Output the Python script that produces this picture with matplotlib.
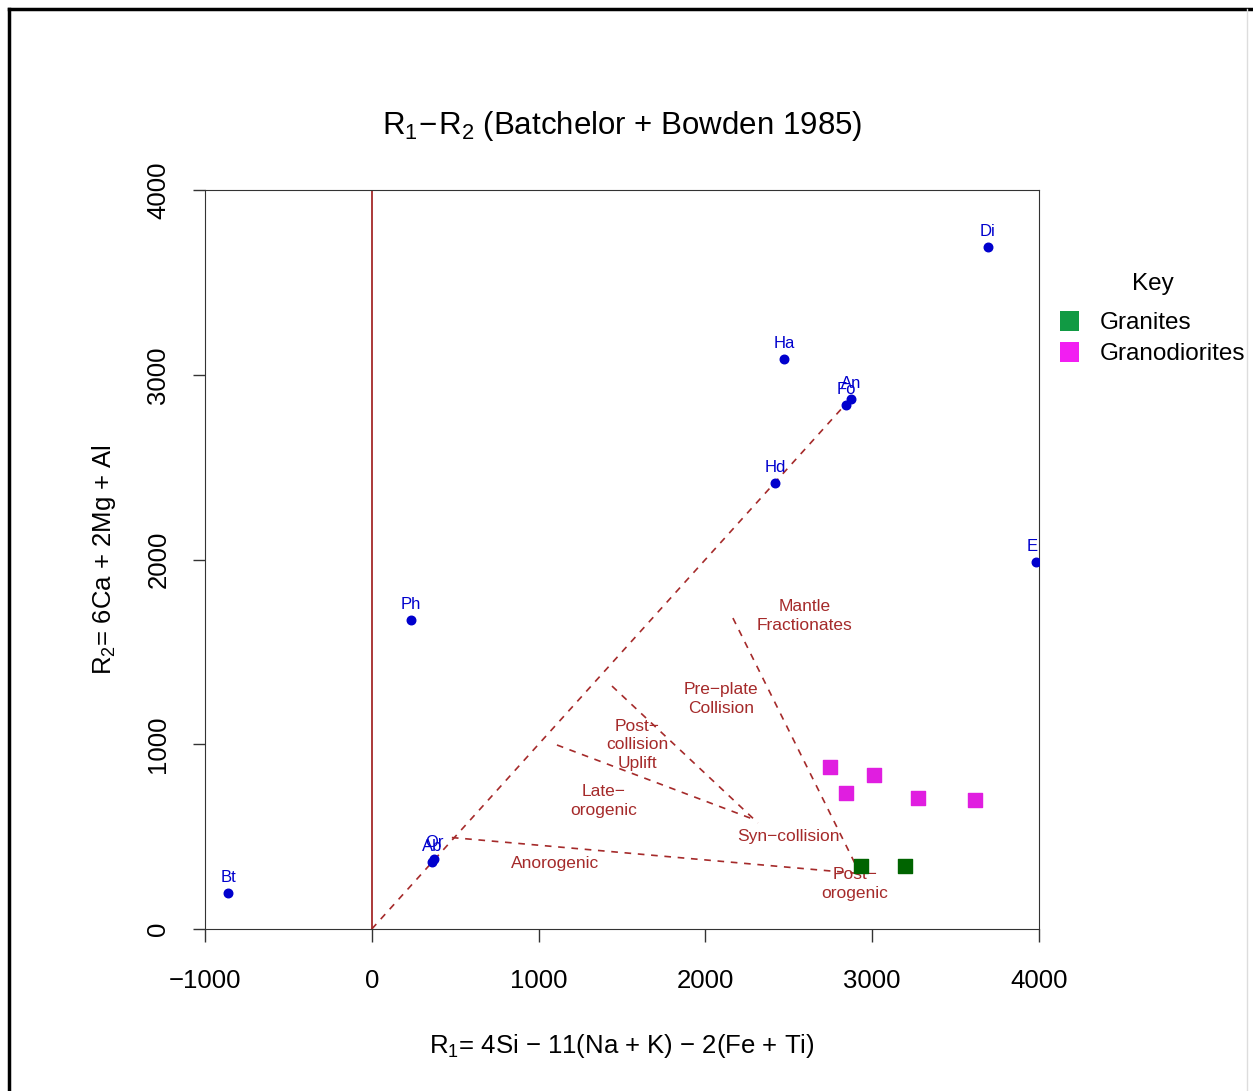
import matplotlib.pyplot as plt
from matplotlib.lines import Line2D
from matplotlib.patches import Patch

plt.rcParams['font.family'] = ['Liberation Sans', 'DejaVu Sans']
plt.rcParams['mathtext.fontset'] = 'custom'
plt.rcParams['mathtext.rm'] = 'Liberation Sans'

# mineral reference points (R1, R2)
mineral_names = ["Bt", "Ph", "Ab", "Or", "Hd", "Ha", "Fo", "An", "Di", "E"]
mineral_r1 = [-862, 235, 361, 375, 2417, 2471, 2843, 2873, 3694, 3982]
mineral_r2 = [195, 1672, 363, 380, 2414, 3085, 2836, 2869, 3691, 1986]

# sample data
granite_r1 = [2933, 3197]
granite_r2 = [341, 341]
granodiorite_r1 = [2747, 3011, 2843, 3275, 3616]
granodiorite_r2 = [877, 834, 736, 709, 698]

# field boundaries (dashed)
boundaries = [
    ([0, 2850], [0, 2850]),
    ([480, 2927], [495, 300]),
    ([2165, 2927], [1683, 300]),
    ([1440, 2315], [1315, 574]),
    ([1110, 2270], [996, 600]),
]

field_labels = ["Mantle\nFractionates", "Pre\u2212plate\nCollision", "Post\u2212\ncollision\nUplift",
                "Late\u2212\norogenic", "Syn\u2212collision", "Anorogenic", "Post\u2212\norogenic"]
field_r1 = [2597, 2094, 1590, 1392, 2495, 1098, 2897]
field_r2 = [1694, 1245, 996, 693, 503, 352, 244]

brown = "#a52a2a"
blue = "#0000cd"

fig = plt.figure(figsize=(12.53, 10.91), dpi=100)
ax = fig.add_axes([205 / 1253, 1 - 929 / 1091, 834 / 1253, 739 / 1091])

ax.axvline(0, color=brown, lw=1.3)
for xs, ys in boundaries:
    ax.plot(xs, ys, ls=(0, (4, 4)), color=brown, lw=1.2)

for name, x, y in zip(field_labels, field_r1, field_r2):
    ax.text(x, y, name, color=brown, fontsize=12.5, ha="center", va="center", linespacing=1.3)

ax.scatter(mineral_r1, mineral_r2, s=38, color=blue, zorder=3)
for name, x, y in zip(mineral_names, mineral_r1, mineral_r2):
    ax.text(x - 25 if name == "E" else x, y + 45, name, color=blue, fontsize=12,
            ha="center", va="bottom")

ax.scatter(granite_r1, granite_r2, marker="s", s=95, color="#006400", zorder=3)
ax.scatter(granodiorite_r1, granodiorite_r2, marker="s", s=95, color="#e01ee0", zorder=3)

ax.set_xlim(-1000, 4000)
ax.set_ylim(0, 4000)
ax.set_xticks([-1000, 0, 1000, 2000, 3000, 4000])
ax.set_xticklabels(["\u22121000", "0", "1000", "2000", "3000", "4000"])
ax.set_yticks([0, 1000, 2000, 3000, 4000])
ax.tick_params(axis="both", labelsize=18.5, length=9, width=1, color="#333333", pad=20)
ax.tick_params(axis="y", pad=16)
plt.setp(ax.get_yticklabels(), rotation=90, va="center")
for sp in ax.spines.values():
    sp.set_color("#333333")

ax.set_title(r"$\mathregular{R_1\!-\!R_2}$ (Batchelor + Bowden 1985)", fontsize=22.5, pad=40)
ax.set_xlabel("$\\mathregular{R_1}$= 4Si \u2212 11(Na + K) \u2212 2(Fe + Ti)", fontsize=18.5, labelpad=28)
ax.set_ylabel("$\\mathregular{R_2}$= 6Ca + 2Mg + Al", fontsize=18.5, labelpad=20)

handles = [Patch(facecolor="#119a44", edgecolor="none", label="Granites"),
           Patch(facecolor="#f21ef2", edgecolor="none", label="Granodiorites")]
leg = fig.legend(handles=handles, title="Key", loc="upper left", bbox_to_anchor=(1045 / 1253, 1 - 258 / 1091),
                 frameon=False, fontsize=17.5, title_fontsize=17.5, handlelength=0.8, handleheight=0.85,
                 handletextpad=0.85, labelspacing=0.32, borderaxespad=0.2)
leg._legend_box.sep = 12

# outer frame of the figure
fig.add_artist(Line2D([9 / 1253, 9 / 1253], [0, 1 - 9 / 1091], color="black", lw=2.5))
fig.add_artist(Line2D([9 / 1253, 1], [1 - 9 / 1091, 1 - 9 / 1091], color="black", lw=2.5))
fig.add_artist(Line2D([1247 / 1253, 1247 / 1253], [0, 1 - 9 / 1091], color="#dddddd", lw=1))

fig.savefig("out.png", dpi=100)
